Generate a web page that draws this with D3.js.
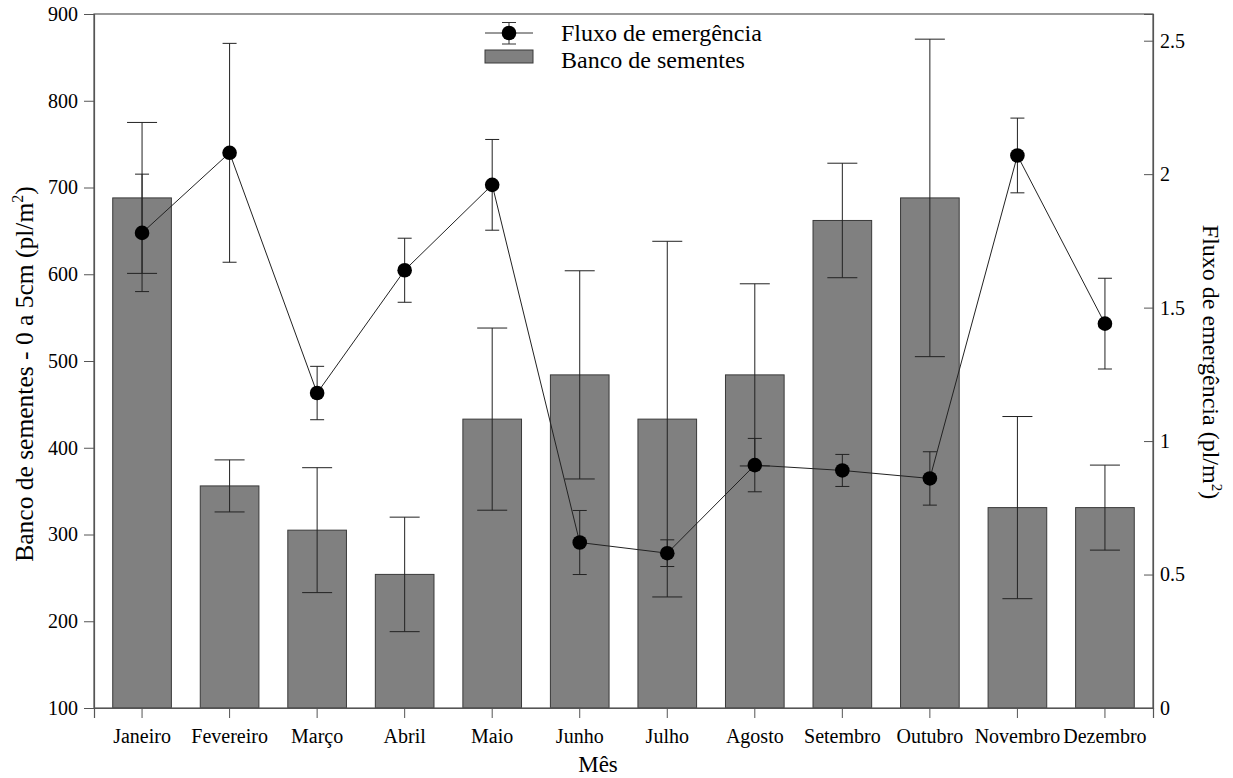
<!DOCTYPE html>
<html>
<head>
<meta charset="utf-8">
<script src="https://cdn.jsdelivr.net/npm/d3@7"></script>
<style>
  body { margin: 0; background: #fff; }
  svg text { font-family: "Liberation Serif", "DejaVu Serif", serif !important; fill: #000; }
</style>
</head>
<body>
<div id="chart"></div>
<script>
// Month categories
const months = ["Janeiro", "Fevereiro", "Março", "Abril", "Maio", "Junho",
    "Julho", "Agosto", "Setembro", "Outubro", "Novembro", "Dezembro"];

// Seed bank (left axis) with error
const bancoValues = [688, 356, 305, 254, 433, 484, 433, 484, 662, 688, 331, 331];
const bancoError = [87, 30, 72, 66, 105, 120, 205, 105, 66, 183, 105, 49];

// Emergence flux (right axis) with error
const fluxoValues = [1.78, 2.08, 1.18, 1.64, 1.96, 0.62, 0.58, 0.91, 0.89, 0.86, 2.07, 1.44];
const fluxoError = [0.22, 0.41, 0.10, 0.12, 0.17, 0.12, 0.05, 0.10, 0.06, 0.10, 0.14, 0.17];

const leftTicks = [100, 200, 300, 400, 500, 600, 700, 800, 900];
const rightTicks = [0, 0.5, 1, 1.5, 2, 2.5];

const W = 1233, H = 778;
const margin = { top: 14, right: 80, bottom: 70, left: 94 },
    width = 1153 - margin.left,
    height = 708 - margin.top;
const serif = "'Liberation Serif', 'DejaVu Serif', serif";

const svg = d3.select("#chart")
    .append("svg")
    .attr("width", W)
    .attr("height", H)
    .style("font-family", serif);

const g = svg.append("g")
    .attr("transform", `translate(${margin.left},${margin.top})`);

const x = d3.scaleBand()
    .domain(months)
    .range([0, width])
    .paddingInner(0.33)
    .paddingOuter(0.214);

const yL = d3.scaleLinear().domain([100, 900]).range([height, 0]);
const yR = d3.scaleLinear().domain([0, 2.6]).range([height, 0]);

const cx = d => x(d) + x.bandwidth() / 2;

// bars
g.append("g")
    .selectAll("rect")
    .data(months)
    .join("rect")
    .attr("x", d => x(d))
    .attr("y", (d, i) => yL(bancoValues[i]))
    .attr("width", x.bandwidth())
    .attr("height", (d, i) => height - yL(bancoValues[i]))
    .attr("fill", "#808080")
    .attr("stroke", "#3a3a3a")
    .attr("stroke-width", 1);

// bar error bars
const be = g.append("g").attr("stroke", "#222").attr("stroke-width", 1);
months.forEach((m, i) => {
    const hi = yL(bancoValues[i] + bancoError[i]), lo = yL(bancoValues[i] - bancoError[i]);
    be.append("line").attr("x1", cx(m)).attr("x2", cx(m)).attr("y1", hi).attr("y2", lo);
    be.append("line").attr("x1", cx(m) - 15).attr("x2", cx(m) + 15).attr("y1", hi).attr("y2", hi);
    be.append("line").attr("x1", cx(m) - 15).attr("x2", cx(m) + 15).attr("y1", lo).attr("y2", lo);
});

// flux error bars
const fe = g.append("g").attr("stroke", "#222").attr("stroke-width", 1);
months.forEach((m, i) => {
    const hi = yR(fluxoValues[i] + fluxoError[i]), lo = yR(fluxoValues[i] - fluxoError[i]);
    fe.append("line").attr("x1", cx(m)).attr("x2", cx(m)).attr("y1", hi).attr("y2", lo);
    fe.append("line").attr("x1", cx(m) - 7).attr("x2", cx(m) + 7).attr("y1", hi).attr("y2", hi);
    fe.append("line").attr("x1", cx(m) - 7).attr("x2", cx(m) + 7).attr("y1", lo).attr("y2", lo);
});

// flux line
g.append("path")
    .datum(months)
    .attr("fill", "none")
    .attr("stroke", "#222")
    .attr("stroke-width", 1)
    .attr("d", d3.line().x(d => cx(d)).y((d, i) => yR(fluxoValues[i])));

g.append("g")
    .selectAll("circle")
    .data(months)
    .join("circle")
    .attr("cx", d => cx(d))
    .attr("cy", (d, i) => yR(fluxoValues[i]))
    .attr("r", 7.3)
    .attr("fill", "#000");

// frame
g.append("rect")
    .attr("width", width)
    .attr("height", height)
    .attr("fill", "none")
    .attr("stroke", "#555")
    .attr("stroke-width", 1.2);

// axes
const axisL = g.append("g")
    .call(d3.axisLeft(yL).tickValues(leftTicks).tickSize(10).tickPadding(6).tickFormat(d3.format("d")));
const axisR = g.append("g")
    .attr("transform", `translate(${width},0)`)
    .call(d3.axisRight(yR).tickValues(rightTicks).tickSize(-9).tickPadding(7).tickFormat(d3.format("")));
const axisB = g.append("g")
    .attr("transform", `translate(0,${height})`)
    .call(d3.axisBottom(x).tickSize(10).tickPadding(11));

[axisL, axisR, axisB].forEach(a => {
    a.attr("font-family", null).style("font-family", serif);
    a.select(".domain").attr("stroke", "#555").attr("stroke-width", 1.2);
    a.selectAll(".tick line").attr("stroke", "#555");
    a.selectAll("text").style("font-family", serif).style("font-size", "20px").attr("fill", "#000");
});

// axis titles
svg.append("text")
    .attr("x", 598)
    .attr("y", 772)
    .attr("text-anchor", "middle")
    .style("font-size", "23px")
    .text("Mês");

const tl = svg.append("text")
    .attr("transform", `translate(33,374) rotate(-90)`)
    .attr("text-anchor", "middle")
    .style("font-size", "25.5px");
tl.append("tspan").text("Banco de sementes - 0 a 5cm (pl/m");
tl.append("tspan").style("font-size", "16px").attr("dy", -10).text("2");
tl.append("tspan").attr("dy", 10).text(")");

const tr = svg.append("text")
    .attr("transform", `translate(1203,362) rotate(90)`)
    .attr("text-anchor", "middle")
    .style("font-size", "24px");
tr.append("tspan").text("Fluxo de emergência (pl/m");
tr.append("tspan").style("font-size", "15px").attr("dy", -9).text("2");
tr.append("tspan").attr("dy", 9).text(")");

// legend
const lg = svg.append("g");
lg.append("line").attr("x1", 485).attr("x2", 533).attr("y1", 33).attr("y2", 33).attr("stroke", "#333");
lg.append("line").attr("x1", 509).attr("x2", 509).attr("y1", 22.5).attr("y2", 44).attr("stroke", "#333");
lg.append("line").attr("x1", 502).attr("x2", 516).attr("y1", 22.5).attr("y2", 22.5).attr("stroke", "#333");
lg.append("line").attr("x1", 502).attr("x2", 516).attr("y1", 44).attr("y2", 44).attr("stroke", "#333");
lg.append("circle").attr("cx", 509).attr("cy", 33).attr("r", 7.3).attr("fill", "#000");
lg.append("rect").attr("x", 485).attr("y", 50).attr("width", 48).attr("height", 13)
    .attr("fill", "#808080").attr("stroke", "#3a3a3a");
lg.append("text").attr("x", 561).attr("y", 41).style("font-size", "24px").text("Fluxo de emergência");
lg.append("text").attr("x", 561).attr("y", 68).style("font-size", "24px").text("Banco de sementes");
</script>
</body>
</html>
